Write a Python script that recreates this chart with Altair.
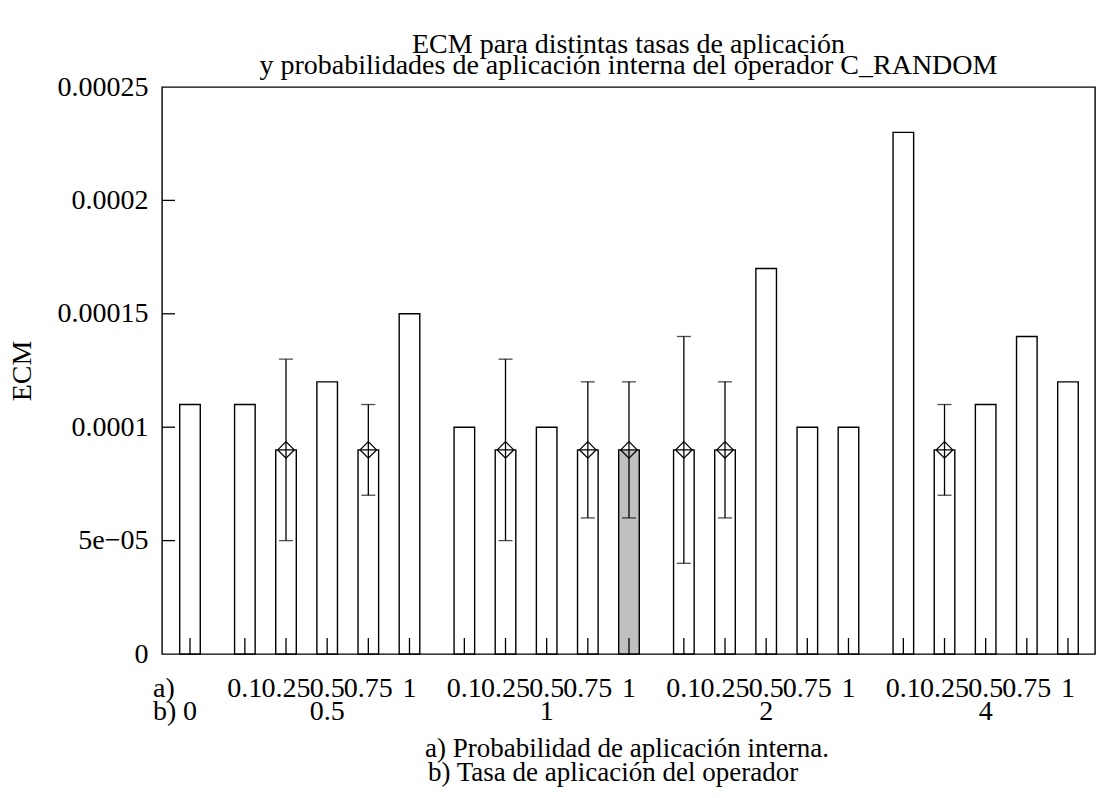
import altair as alt
import pandas as pd

# ---- data ----
tasas = ["0", "0.5", "1", "2", "4"]                      # b) tasa de aplicación (groups)
probs = ["0.1", "0.25", "0.5", "0.75", "1"]              # a) probabilidad interna
# one bar for tasa 0, then five bars per tasa
bar_group = [0] + [1] * 5 + [2] * 5 + [3] * 5 + [4] * 5
bar_prob = [""] + probs * 4
ecm = [0.00011,
       0.00011, 0.00009, 0.00012, 0.00009, 0.00015,
       0.00010, 0.00009, 0.00010, 0.00009, 0.00009,
       0.00009, 0.00009, 0.00017, 0.00010, 0.00010,
       0.00023, 0.00009, 0.00011, 0.00014, 0.00012]
err_low = [None,
           None, 0.00005, None, 0.00007, None,
           None, 0.00005, None, 0.00006, 0.00006,
           0.00004, 0.00006, None, None, None,
           None, 0.00007, None, None, None]
err_high = [None,
            None, 0.00013, None, 0.00011, None,
            None, 0.00013, None, 0.00012, 0.00012,
            0.00014, 0.00012, None, None, None,
            None, 0.00011, None, None, None]
highlighted = [False] * 21
highlighted[10] = True
y_tick_values = [0, 0.00005, 0.0001, 0.00015, 0.0002, 0.00025]
y_tick_labels = ["0", "5e\u221205", "0.0001", "0.00015", "0.0002", "0.00025"]
title_lines = ["ECM para distintas tasas de aplicación",
               "y probabilidades de aplicación interna del operador C_RANDOM"]
xlabel_lines = ["a) Probabilidad de aplicación interna.",
                "b) Tasa de aplicación del operador"]

# ---- tables ----
GAP = 1.0 / 3.0
BAR_HALF = 0.25
pos = [k + g * GAP for k, g in enumerate(bar_group)]
bars = pd.DataFrame({
    "pos": pos,
    "x0": [p - BAR_HALF for p in pos],
    "x1": [p + BAR_HALF for p in pos],
    "ecm": ecm,
    "prob": bar_prob,
    "lo": err_low,
    "hi": err_high,
    "destacado": highlighted,
})
errs = bars.dropna(subset=["lo", "hi"])
groups = pd.DataFrame({
    "tasa": tasas,
    "pos": [bars.loc[[g == i for g in bar_group], "pos"].mean() for i in range(len(tasas))],
})
yticks = pd.DataFrame({"v": y_tick_values[1:-1]})
one = pd.DataFrame({"k": [0]})

FONT = "Liberation Serif"
FS = 28
W, H = 933, 567

xscale = alt.Scale(domain=[-0.68, 21.99], nice=False, zero=False)
yscale = alt.Scale(domain=[0, 0.00025], nice=False)
label_expr = "[" + ",".join("'%s'" % t for t in y_tick_labels) + "][round(datum.value/0.00005)]"

base = alt.Chart(bars)

bar_layer = base.mark_rect(stroke="black", strokeWidth=1.4).encode(
    x=alt.X("x0:Q", scale=xscale, axis=None),
    x2="x1:Q",
    y=alt.Y("ecm:Q", scale=yscale,
            axis=alt.Axis(values=y_tick_values, labelExpr=label_expr, ticks=False,
                          domain=False, grid=False, labelFont=FONT, labelFontSize=FS,
                          labelColor="black", labelPadding=14, labelBaseline="middle",
                          title="ECM", titleFont=FONT, titleFontSize=FS,
                          titleFontWeight="normal", titleColor="black",
                          titleX=-140, titleY=H / 2, titleAngle=270,
                          titleAlign="center", titleBaseline="middle")),
    y2=alt.datum(0),
    fill=alt.when(alt.datum.destacado).then(alt.value("#c0c0c0")).otherwise(alt.value("white")),
)

xtick_layer = base.mark_rule(color="black", strokeWidth=1.3).encode(
    x=alt.X("pos:Q", scale=xscale),
    y=alt.value(H),
    y2=alt.value(H - 16),
)

ytick_layer = alt.Chart(yticks).mark_rule(color="black", strokeWidth=1.3).encode(
    y=alt.Y("v:Q", scale=yscale),
    x=alt.value(0),
    x2=alt.value(13),
)

err_rule = alt.Chart(errs).mark_rule(color="black", strokeWidth=1.3).encode(
    x=alt.X("pos:Q", scale=xscale),
    y=alt.Y("lo:Q", scale=yscale),
    y2="hi:Q",
)
cap_lo = alt.Chart(errs).mark_tick(color="black", orient="horizontal", size=14, thickness=1.3).encode(
    x=alt.X("pos:Q", scale=xscale),
    y=alt.Y("lo:Q", scale=yscale),
)
cap_hi = alt.Chart(errs).mark_tick(color="black", orient="horizontal", size=14, thickness=1.3).encode(
    x=alt.X("pos:Q", scale=xscale),
    y=alt.Y("hi:Q", scale=yscale),
)
diamonds = alt.Chart(errs).mark_point(shape="diamond", size=270, filled=False,
                                      color="black", strokeWidth=1.3, opacity=1).encode(
    x=alt.X("pos:Q", scale=xscale),
    y=alt.Y("ecm:Q", scale=yscale),
)

def txt(data, **kw):
    return alt.Chart(data).mark_text(font=FONT, fontSize=kw.pop("size", FS), color="black",
                                     baseline="alphabetic", **kw)

row_a = txt(bars, align="center").encode(
    x=alt.X("pos:Q", scale=xscale), y=alt.value(H + 43), text="prob:N")
row_b = txt(groups, align="center").encode(
    x=alt.X("pos:Q", scale=xscale), y=alt.value(H + 66), text="tasa:N")
pref_a = txt(one, align="left").encode(x=alt.value(-9), y=alt.value(H + 43), text=alt.value("a)"))
pref_b = txt(one, align="left").encode(x=alt.value(-9), y=alt.value(H + 66), text=alt.value("b)"))

xl1 = txt(one, align="left", size=27).encode(
    x=alt.value(263), y=alt.value(H + 103), text=alt.value(xlabel_lines[0]))
xl2 = txt(one, align="left", size=27).encode(
    x=alt.value(266), y=alt.value(H + 127), text=alt.value(xlabel_lines[1]))

t1 = txt(one, align="center").encode(
    x=alt.value(W / 2), y=alt.value(-34), text=alt.value(title_lines[0]))
t2 = txt(one, align="center").encode(
    x=alt.value(W / 2), y=alt.value(-13), text=alt.value(title_lines[1]))

chart = alt.layer(
    bar_layer, xtick_layer, ytick_layer, err_rule, cap_lo, cap_hi, diamonds,
    row_a, row_b, pref_a, pref_b, xl1, xl2, t1, t2,
).properties(
    width=W, height=H,
    autosize=alt.AutoSizeParams(type="none"),
    padding={"left": 162, "top": 87, "right": 7, "bottom": 144},
    background="white",
).configure_view(stroke="black", strokeWidth=1.4)

chart.save("out.html", embed_options={"renderer": "svg", "actions": False})
